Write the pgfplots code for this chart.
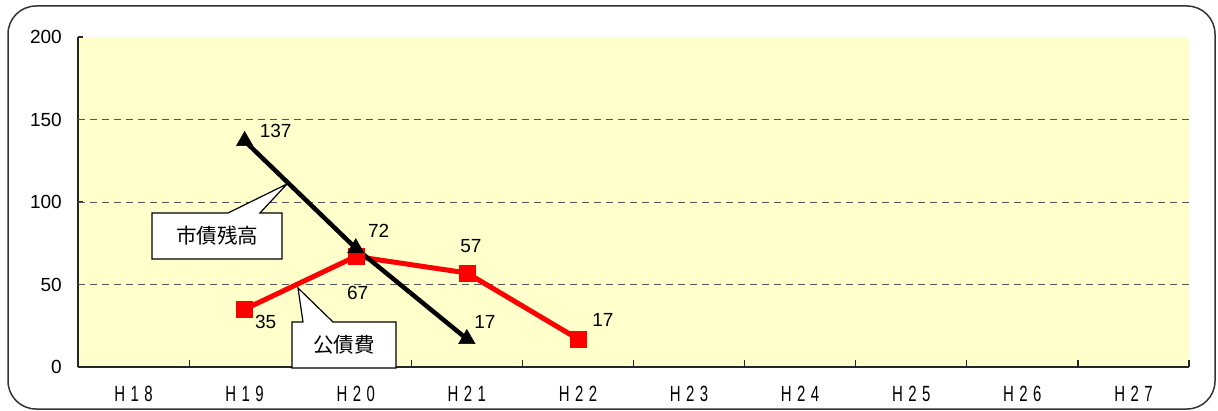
\documentclass[border=0pt]{standalone}
\usepackage{fontspec}
\setmainfont{Liberation Sans}
\newfontfamily\jpfont{Noto Sans CJK JP}
\usepackage{pgfplots}
\pgfplotsset{compat=1.18}
\usepackage{pgfplotstable}

\definecolor{bgyellow}{RGB}{255,255,204}
\definecolor{gridgray}{RGB}{85,85,85}

% 市債残高 (black) and 公債費 (red); dx/dy place the value labels
\pgfplotstableread{
x y dx dy
1 137 31 10
2 72 23 17
3 17 18 17
}\debt
\pgfplotstableread{
x y dx dy
1 35 21 -13
2 67 2 -37
3 57 4 27
4 17 25 19
}\cost

\newcommand\lab{\fontsize{19}{21}\selectfont}
% condensed, letter-spaced year labels
\newcommand\yr[3]{\scalebox{0.68}[1]{\fontsize{22}{23}\selectfont #1\hspace{8pt}#2\hspace{8pt}#3}}

\begin{document}
\begin{tikzpicture}[x=1pt,y=1pt]
  \path (0,0) rectangle (1218,410);
  \draw[line width=1.5pt, rounded corners=28pt, color=black!80] (8,1) rectangle (1215,404);
  \begin{axis}[
    at={(78pt,43pt)}, anchor=south west,
    scale only axis, width=1111pt, height=330pt,
    xmin=-0.5, xmax=9.5, ymin=0, ymax=200,
    clip=false,
    axis x line*=bottom, axis y line*=left,
    axis line style={line width=1.3pt, black!85, -},
    axis background/.style={fill=bgyellow},
    xtick={0,...,9},
    xticklabels={\yr H18,\yr H19,\yr H20,\yr H21,\yr H22,\yr H23,\yr H24,\yr H25,\yr H26,\yr H27},
    major x tick style={draw=none},
    minor xtick={-0.5,0.5,...,9.5},
    minor x tick style={line width=1.2pt, black!85},
    minor tick length=7pt,
    tick align=inside,
    ytick={0,50,...,200},
    major y tick style={line width=1.2pt, black!85},
    major tick length=5pt,
    extra y ticks={50,100,150},
    extra y tick labels={},
    extra y tick style={grid=major, major tick length=0pt},
    major grid style={dash pattern=on 7pt off 5pt, line width=1pt, gridgray},
    /pgf/number format/assume math mode=true,
    xticklabel style={anchor=base, yshift=-34pt, inner sep=0pt},
    yticklabel style={font=\lab, anchor=east, inner sep=0pt, xshift=-16pt},
  ]
  \addplot[red, line width=5pt, mark=square*, mark size=8pt,
    mark options={line width=0.5pt, solid},
    point meta=\thisrow{y},
    nodes near coords,
    visualization depends on={\thisrow{dx} \as \dx},
    visualization depends on={\thisrow{dy} \as \dy},
    every node near coord/.style={anchor=center, xshift=\dx, yshift=\dy, font=\lab, text=black, inner sep=0pt},
  ] table[x=x, y=y] {\cost};
  \addplot[black, line width=4.5pt, mark=triangle*, mark size=9.5pt,
    mark options={line width=0.5pt, solid},
    point meta=\thisrow{y},
    nodes near coords,
    visualization depends on={\thisrow{dx} \as \dx},
    visualization depends on={\thisrow{dy} \as \dy},
    every node near coord/.style={anchor=center, xshift=\dx, yshift=\dy, font=\lab, text=black, inner sep=0pt},
  ] table[x=x, y=y] {\debt};
  \end{axis}
  % callouts
  \draw[line width=1.2pt, fill=white] (152,151) -- (152,197) -- (228,197) -- (287,226) -- (260,197) -- (282,197) -- (282,151) -- cycle;
  \node[font=\jpfont\fontsize{20.5}{22}\selectfont] at (217,174) {市債残高};
  \draw[line width=1.2pt, fill=white] (292,42) -- (292,88) -- (303,88) -- (298,122) -- (333,88) -- (396,88) -- (396,42) -- cycle;
  \node[font=\jpfont\fontsize{20.5}{22}\selectfont] at (344,65) {公債費};
\end{tikzpicture}
\end{document}
